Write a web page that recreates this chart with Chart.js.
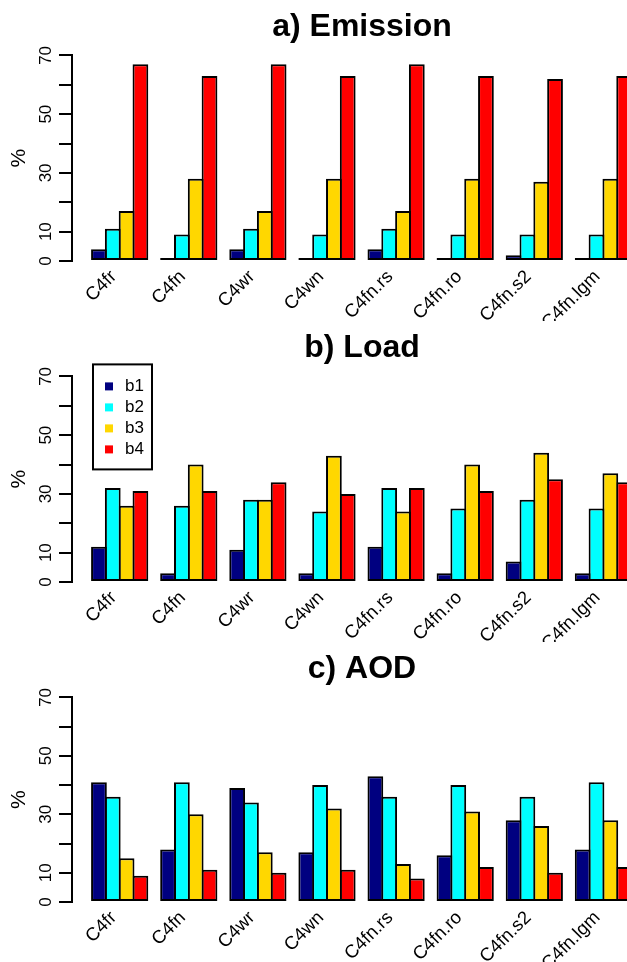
<!DOCTYPE html>
<html>
<head>
<meta charset="utf-8">
<script src="https://cdn.jsdelivr.net/npm/chart.js@4.4.0/dist/chart.umd.min.js"></script>
<style>
  html, body { margin: 0; padding: 0; background: #fff; overflow: hidden; }
  #wrap { width: 627px; height: 962px; overflow: hidden; }
  canvas { display: block; }
</style>
</head>
<body>
<div id="wrap">
  <canvas id="c1" width="724" height="321"></canvas>
  <canvas id="c2" width="724" height="321"></canvas>
  <canvas id="c3" width="724" height="320"></canvas>
</div>
<script>
const runs = ['C4fr', 'C4fn', 'C4wr', 'C4wn', 'C4fn.rs', 'C4fn.ro', 'C4fn.s2', 'C4fn.lgm'];
const bins = ['b1', 'b2', 'b3', 'b4'];
const binColors = ['#000080', '#00FFFF', '#FFD700', '#FF0000'];
const yTicksShown = [0, 10, 30, 50, 70];

// a) Emission
const emisB1 = [4, 1, 4, 1, 4, 1, 2, 1];
const emisB2 = [11, 9, 11, 9, 11, 9, 9, 9];
const emisB3 = [17, 28, 17, 28, 17, 28, 27, 28];
const emisB4 = [67, 63, 67, 63, 67, 63, 62, 63];

// b) Load
const loadB1 = [12, 3, 11, 3, 12, 3, 7, 3];
const loadB2 = [32, 26, 28, 24, 32, 25, 28, 25];
const loadB3 = [26, 40, 28, 43, 24, 40, 44, 37];
const loadB4 = [31, 31, 34, 30, 32, 31, 35, 34];

// c) AOD
const aodB1 = [41, 18, 39, 17, 43, 16, 28, 18];
const aodB2 = [36, 41, 34, 40, 36, 40, 36, 41];
const aodB3 = [15, 30, 17, 32, 13, 31, 26, 28];
const aodB4 = [9, 11, 10, 11, 8, 12, 10, 12];

Chart.defaults.font.family = '"Liberation Sans", Arial, sans-serif';
Chart.defaults.color = '#000';

// boxed legend in the top left corner (panel b only)
const legendBox = {
    id: 'legendBox',
    afterDraw(chart, args, opts) {
        if (!opts.show) return;
        const ctx = chart.ctx;
        const a = chart.chartArea;
        const x0 = a.left + 21, y0 = a.top - 12;
        ctx.save();
        ctx.strokeStyle = '#000';
        ctx.lineWidth = 2;
        ctx.strokeRect(x0, y0, 59, 105);
        ctx.font = '17px "Liberation Sans", Arial, sans-serif';
        ctx.textBaseline = 'middle';
        chart.data.datasets.forEach((ds, i) => {
            const cy = y0 + 22 + 21 * i;
            ctx.fillStyle = ds.backgroundColor;
            ctx.fillRect(x0 + 12, cy - 4, 8, 8);
            ctx.fillStyle = '#000';
            ctx.fillText(ds.label, x0 + 32, cy);
        });
        ctx.restore();
    }
};

function makePanel(id, title, series, withLegend) {
    return new Chart(document.getElementById(id), {
        type: 'bar',
        data: {
            datasets: series.map((vals, i) => ({
                label: bins[i],
                data: runs.map((r, j) => ({x: j, y: vals[j]})),
                backgroundColor: binColors[i],
                borderColor: '#000',
                borderWidth: 2,
                borderSkipped: false,
                categoryPercentage: 0.8,
                barPercentage: 1.14
            }))
        },
        plugins: [legendBox],
        options: {
            responsive: false,
            animation: false,
            layout: { padding: 0 },
            plugins: {
                legend: { display: false },
                tooltip: { enabled: false },
                title: {
                    display: true,
                    text: title,
                    color: '#000',
                    font: { size: 32, weight: 'bold' },
                    padding: { top: 8, bottom: 9 }
                },
                legendBox: { show: withLegend }
            },
            scales: {
                x: {
                    type: 'linear',
                    min: -0.69,
                    max: 8.745,
                    offset: false,
                    grid: { display: false },
                    border: { display: false },
                    ticks: {
                        stepSize: 1,
                        includeBounds: false,
                        autoSkip: false,
                        minRotation: 45,
                        maxRotation: 45,
                        padding: -3,
                        labelOffset: -6,
                        font: { size: 18.5 },
                        callback: v => runs[v] ?? ''
                    },
                    afterFit: s => { s.height = 60; }
                },
                y: {
                    min: 0,
                    max: 70,
                    grid: { drawOnChartArea: false, drawTicks: true, tickLength: 13, color: '#000', lineWidth: 2 },
                    border: { display: true, color: '#000', width: 2 },
                    ticks: {
                        stepSize: 10,
                        minRotation: 90,
                        maxRotation: 90,
                        crossAlign: 'center',
                        padding: 3,
                        font: { size: 17 },
                        callback: v => yTicksShown.includes(v) ? String(v) : ''
                    },
                    title: { display: true, text: '%', color: '#000', font: { size: 21 }, padding: { top: 7, bottom: 0 } },
                    afterFit: s => { s.width = 72; }
                }
            }
        }
    });
}

makePanel('c1', 'a) Emission', [emisB1, emisB2, emisB3, emisB4], false);
makePanel('c2', 'b) Load', [loadB1, loadB2, loadB3, loadB4], true);
makePanel('c3', 'c) AOD', [aodB1, aodB2, aodB3, aodB4], false);
</script>
</body>
</html>
